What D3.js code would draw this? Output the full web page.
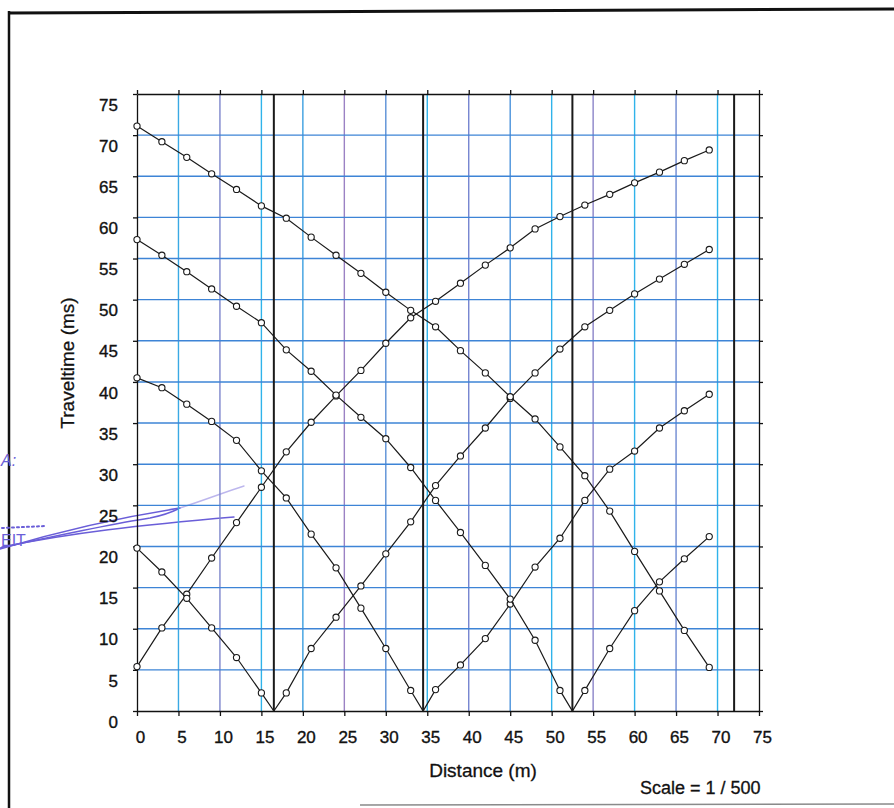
<!DOCTYPE html>
<html>
<head>
<meta charset="utf-8">
<script src="https://cdn.jsdelivr.net/npm/d3@7"></script>
<style>
  body { margin: 0; background: #fff; }
  svg { display: block; font-family: "Liberation Sans", Arial, sans-serif; }
</style>
</head>
<body>
<script>
'use strict';

// geophone positions (m)
const distances = [0, 3, 6, 9, 12, 15, 18, 21, 24, 27, 30, 33, 36, 39, 42, 45, 48, 51, 54, 57, 60, 63, 66, 69];

// first arrival traveltimes (ms) at each geophone, one list per shot
const shotLeft = [5.4, 10.1, 14.2, 18.6, 22.9, 27.2, 31.5, 35.1, 38.3, 41.4, 44.7, 47.8, 49.8, 52.0, 54.2, 56.3, 58.6, 60.1, 61.5, 62.8, 64.2, 65.5, 66.9, 68.2];
const shot16 = [19.8, 16.9, 13.7, 10.1, 6.5, 2.2, 2.2, 7.6, 11.4, 15.2, 19.1, 23.0, 27.4, 31.0, 34.4, 38.0, 41.1, 44.0, 46.7, 48.7, 50.7, 52.5, 54.3, 56.1];
const shot34 = [40.5, 39.3, 37.3, 35.2, 32.9, 29.2, 25.9, 21.5, 17.4, 12.5, 7.6, 2.5, 2.6, 5.6, 8.8, 13.0, 17.5, 21.0, 25.6, 29.4, 31.6, 34.4, 36.5, 38.5];
const shot52 = [57.3, 55.4, 53.4, 51.3, 49.2, 47.2, 43.9, 41.3, 38.4, 35.7, 33.1, 29.6, 25.6, 21.7, 17.7, 13.6, 8.6, 2.5, 2.5, 7.6, 12.2, 15.7, 18.5, 21.2];
const shotRight = [71.1, 69.2, 67.3, 65.3, 63.4, 61.4, 59.9, 57.6, 55.4, 53.2, 50.9, 48.7, 46.7, 43.8, 41.1, 38.2, 35.5, 32.1, 28.6, 24.3, 19.4, 14.6, 9.8, 5.3];

const shots = [shotLeft, shot16, shot34, shot52, shotRight];
// source position of each shot when it lies inside the spread (traveltime 0 there)
const shotSources = [null, 16.5, 34.5, 52.5, null];

// heavy vertical lines (shot points / end of spread)
const shotLines = [16.5, 34.5, 52.5, 72];

// tick values
const xTicks = [0, 5, 10, 15, 20, 25, 30, 35, 40, 45, 50, 55, 60, 65, 70, 75];
const yTicks = [0, 5, 10, 15, 20, 25, 30, 35, 40, 45, 50, 55, 60, 65, 70, 75];

// printed grid colours (the scan mixes cyan and violet lines)
const vGridColor = {5: '#3aa9e4', 10: '#7d86cc', 15: '#2fb3ea', 20: '#3c9fe0', 25: '#9b82c4', 30: '#5a8fd6',
  35: '#2fb3ea', 40: '#7484d0', 45: '#4a92dc', 50: '#2fb3ea', 55: '#8b84c8', 60: '#2fb3ea', 65: '#6f8ad2', 70: '#2fb3ea'};
const hGridColor = '#3d84d6';

let svgContainer = d3.select('body')
  .append('svg')
  .attr('width', 894)
  .attr('height', 808);

let xScale = d3.scaleLinear().domain([0, 75]).range([137, 759]);
let yScale = d3.scaleLinear().domain([0, 75]).range([711, 94]);

drawPage();
drawGrid();
drawAxes();
plotData();
makeLabels();

// scanned page frame and pen marks
function drawPage() {
  svgContainer.append('line')
    .attr('x1', 8).attr('y1', 13).attr('x2', 894).attr('y2', 9)
    .attr('stroke', '#111').attr('stroke-width', 3);
  svgContainer.append('line')
    .attr('x1', 9).attr('y1', 11).attr('x2', 9).attr('y2', 808)
    .attr('stroke', '#111').attr('stroke-width', 2.5);
  svgContainer.append('line')
    .attr('x1', 360).attr('y1', 805).attr('x2', 894).attr('y2', 804)
    .attr('stroke', '#8a8a8a').attr('stroke-width', 1.5);

  // blue pen strokes on the left margin
  let pen = svgContainer.append('g')
    .attr('fill', 'none')
    .attr('stroke', '#6a5ed8')
    .attr('stroke-width', 1.4)
    .attr('stroke-linecap', 'round');
  pen.append('path').attr('d', 'M0,549 C50,534 110,519 180,508');
  pen.append('path').attr('d', 'M180,508 C205,500 225,492 244,486').attr('stroke-opacity', 0.45);
  pen.append('path').attr('d', 'M0,548 C55,536 105,525 150,518 C165,515 172,512 178,509');
  pen.append('path').attr('d', 'M2,547 C70,533 140,525 234,517');
  pen.append('path').attr('d', 'M2,528 L46,526').attr('stroke-dasharray', '2,3').attr('stroke-width', 2);
  svgContainer.append('text')
    .attr('x', 1).attr('y', 466)
    .attr('fill', '#6a5ed8').style('font-size', '16px').style('font-style', 'italic')
    .text('A:');
  svgContainer.append('text')
    .attr('x', 1).attr('y', 546)
    .attr('fill', '#6a5ed8').style('font-size', '16px')
    .text('EIT');
}

// blue grid lines every 5 units
function drawGrid() {
  let grid = svgContainer.append('g').attr('class', 'grid');
  grid.selectAll('.vgrid')
    .data(xTicks.slice(1, -1))
    .enter()
    .append('line')
    .attr('x1', d => xScale(d)).attr('x2', d => xScale(d))
    .attr('y1', yScale(75)).attr('y2', yScale(0))
    .attr('stroke', d => vGridColor[d])
    .attr('stroke-width', 1.4);
  grid.selectAll('.hgrid')
    .data(yTicks.slice(1, -1))
    .enter()
    .append('line')
    .attr('x1', xScale(0)).attr('x2', xScale(75))
    .attr('y1', d => yScale(d)).attr('y2', d => yScale(d))
    .attr('stroke', hGridColor)
    .attr('stroke-width', 1.4);

  // heavy black lines at the shot points
  grid.selectAll('.shotline')
    .data(shotLines)
    .enter()
    .append('line')
    .attr('x1', d => xScale(d)).attr('x2', d => xScale(d))
    .attr('y1', yScale(75)).attr('y2', yScale(0))
    .attr('stroke', '#1a1a1a')
    .attr('stroke-width', 2);
}

// the four framing axes with ticks
function drawAxes() {
  let fmt = d3.format('d');

  let bottom = svgContainer.append('g')
    .attr('transform', 'translate(0,' + yScale(0) + ')')
    .call(d3.axisBottom(xScale).tickValues(xTicks).tickFormat(fmt).tickSizeInner(5).tickSizeOuter(0));
  bottom.selectAll('text')
    .attr('dx', 3).attr('y', 20)
    .style('font-size', '17px');

  let left = svgContainer.append('g')
    .attr('transform', 'translate(' + xScale(0) + ',0)')
    .call(d3.axisLeft(yScale).tickValues(yTicks).tickFormat(fmt).tickSizeInner(4).tickSizeOuter(0));
  left.selectAll('text')
    .attr('x', -19).attr('dy', '0.95em')
    .style('font-size', '17px');

  svgContainer.append('g')
    .attr('transform', 'translate(0,' + yScale(75) + ')')
    .call(d3.axisTop(xScale).tickValues(xTicks).tickFormat('').tickSizeInner(4).tickSizeOuter(0));

  svgContainer.append('g')
    .attr('transform', 'translate(' + xScale(75) + ',0)')
    .call(d3.axisRight(yScale).tickValues(yTicks).tickFormat('').tickSizeInner(4).tickSizeOuter(0));

  svgContainer.selectAll('.tick text')
    .attr('fill', '#111')
    .attr('stroke', '#111')
    .attr('stroke-width', 0.35);

  svgContainer.selectAll('.domain, .tick line')
    .attr('stroke', '#111')
    .attr('stroke-width', 1.3);
}

// traveltime curves with open circle markers
function plotData() {
  let line = d3.line()
    .x(d => xScale(d.x))
    .y(d => yScale(d.t));

  shots.forEach(function(times, i) {
    let pts = distances.map((d, j) => ({ x: d, t: times[j], src: false }));
    if (shotSources[i] !== null) {
      pts.push({ x: shotSources[i], t: 0, src: true });
      pts.sort((a, b) => a.x - b.x);
    }

    svgContainer.append('path')
      .datum(pts)
      .attr('d', line)
      .attr('fill', 'none')
      .attr('stroke', '#1a1a1a')
      .attr('stroke-width', 1.2);

    svgContainer.selectAll('.dot' + i)
      .data(pts.filter(p => !p.src))
      .enter()
      .append('circle')
      .attr('cx', d => xScale(d.x))
      .attr('cy', d => yScale(d.t))
      .attr('r', 3.1)
      .attr('fill', '#fff')
      .attr('stroke', '#1a1a1a')
      .attr('stroke-width', 1.1);
  });
}

// axis titles and scale note
function makeLabels() {
  svgContainer.append('text')
    .attr('x', 483)
    .attr('y', 777)
    .attr('text-anchor', 'middle')
    .attr('fill', '#111')
    .attr('stroke', '#111')
    .attr('stroke-width', 0.3)
    .style('font-size', '19px')
    .text('Distance (m)');

  svgContainer.append('text')
    .attr('transform', 'translate(74, 363)rotate(-90)')
    .attr('text-anchor', 'middle')
    .attr('fill', '#111')
    .attr('stroke', '#111')
    .attr('stroke-width', 0.3)
    .style('font-size', '19px')
    .text('Traveltime (ms)');

  svgContainer.append('text')
    .attr('x', 640)
    .attr('y', 794)
    .attr('fill', '#111')
    .attr('stroke', '#111')
    .attr('stroke-width', 0.3)
    .style('font-size', '18px')
    .text('Scale = 1 / 500');
}
</script>
</body>
</html>
